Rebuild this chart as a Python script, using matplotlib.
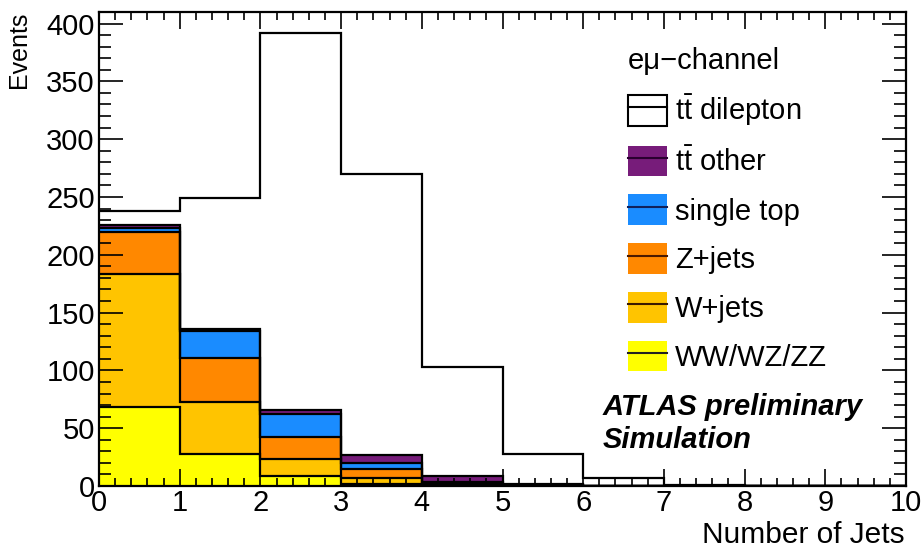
import numpy as np
import matplotlib
matplotlib.use("Agg")
import matplotlib.pyplot as plt
from matplotlib.patches import Patch
from matplotlib.lines import Line2D
from matplotlib.legend_handler import HandlerTuple
from matplotlib.ticker import MultipleLocator

plt.rcParams['font.family'] = ['Liberation Sans', 'DejaVu Sans']
plt.rcParams['mathtext.fontset'] = 'custom'
plt.rcParams['mathtext.rm'] = 'Liberation Sans'

# ---- data (events per jet-multiplicity bin) ----
bin_edges = [0, 1, 2, 3, 4, 5, 6, 7, 8, 9, 10]
wwwzzz    = [68.0, 28.0, 8.6, 1.6, 0.3, 0.1, 0.0, 0.0, 0.0, 0.0]
wjets     = [115.5, 45.0, 14.4, 5.0, 0.5, 0.2, 0.0, 0.0, 0.0, 0.0]
zjets     = [36.5, 38.0, 19.5, 8.0, 1.2, 0.2, 0.0, 0.0, 0.0, 0.0]
singletop = [3.0, 23.5, 20.0, 5.0, 1.5, 0.3, 0.0, 0.0, 0.0, 0.0]
ttother   = [3.0, 1.0, 3.5, 7.0, 5.0, 0.8, 0.3, 0.0, 0.0, 0.0]
dilepton  = [12.0, 113.5, 326.0, 243.0, 94.5, 26.4, 6.2, 1.0, 0.0, 0.0]

labels = ["WW/WZ/ZZ", "W+jets", "Z+jets", "single top",
          r"t$\bar{\mathrm{t}}$ other", r"t$\bar{\mathrm{t}}$ dilepton"]
colors = ["#FFFF00", "#FFC400", "#FF8800", "#1A8CFF", "#771C7A", "#FFFFFF"]
layers = [wwwzzz, wjets, zjets, singletop, ttother, dilepton]

W, H = 922, 552
fig = plt.figure(figsize=(W / 100, H / 100), dpi=100)
ax_l, ax_r, ax_t, ax_b = 99, 906, 12, 486
ax = fig.add_axes([ax_l / W, 1 - ax_b / H, (ax_r - ax_l) / W, (ax_b - ax_t) / H])

cum = np.cumsum(np.array(layers, dtype=float), axis=0)
edge_dark = ["#222222", "#3a1a00", "#4a1a00", "#10205a", "#2a0030", "#000000"]
for i in range(len(layers) - 1, -1, -1):
    ax.stairs(cum[i], bin_edges, baseline=0, fill=True, facecolor=colors[i],
              edgecolor="none", zorder=1 + (5 - i) * 0.01)
    ax.stairs(cum[i], bin_edges, baseline=None, fill=False, color="black",
              linewidth=1.6, zorder=1.5 + (5 - i) * 0.01)

ax.set_xlim(0, 10)
ax.set_ylim(0, 410)
ax.xaxis.set_major_locator(MultipleLocator(1))
ax.xaxis.set_minor_locator(MultipleLocator(0.2))
ax.yaxis.set_major_locator(MultipleLocator(50))
ax.yaxis.set_minor_locator(MultipleLocator(10))
ax.tick_params(axis='both', which='both', direction='in', top=True, right=True,
               labelsize=21, width=1.2, color='black')
ax.tick_params(axis='x', which='major', length=12, pad=2)
ax.tick_params(axis='x', which='minor', length=6)
ax.tick_params(axis='y', which='major', length=17, pad=3)
ax.tick_params(axis='y', which='minor', length=8.5)
for sp in ax.spines.values():
    sp.set_linewidth(1.6)
ax.set_axisbelow(False)

fig.text(7 / W, 1 - 12 / H, "Events", rotation=90, ha='left', va='top', fontsize=18)
fig.text(905 / W, 1 - 535 / H, "Number of Jets", ha='right', va='center', fontsize=21.5)

# legend
handles = []
for i in range(len(layers) - 1, -1, -1):
    if i == 5:
        p = Patch(facecolor="white", edgecolor="black", linewidth=1.5)
    else:
        p = Patch(facecolor=colors[i], edgecolor="none")
    ln = Line2D([0], [0], color=edge_dark[i] if i < 5 else "black", linewidth=1.5)
    handles.append((p, ln))
leg_labels = [labels[i] for i in range(len(layers) - 1, -1, -1)]
leg = ax.legend(handles, leg_labels, handler_map={tuple: HandlerTuple(ndivide=1)},
                loc='upper left',
                bbox_to_anchor=((628 - ax_l) / (ax_r - ax_l), (ax_b - 47) / (ax_b - ax_t)),
                frameon=False, fontsize=21, borderpad=0, borderaxespad=0,
                handlelength=1.35, handleheight=1.25, labelspacing=0.6,
                handletextpad=0.25, title="eμ−channel", title_fontsize=21,
                alignment='left')

fig.text(603 / W, 1 - 407 / H, "ATLAS preliminary", fontsize=21,
         fontweight='bold', fontstyle='italic', ha='left', va='center')
fig.text(603 / W, 1 - 440 / H, "Simulation", fontsize=21,
         fontweight='bold', fontstyle='italic', ha='left', va='center')

fig.savefig("out.png", dpi=100)
